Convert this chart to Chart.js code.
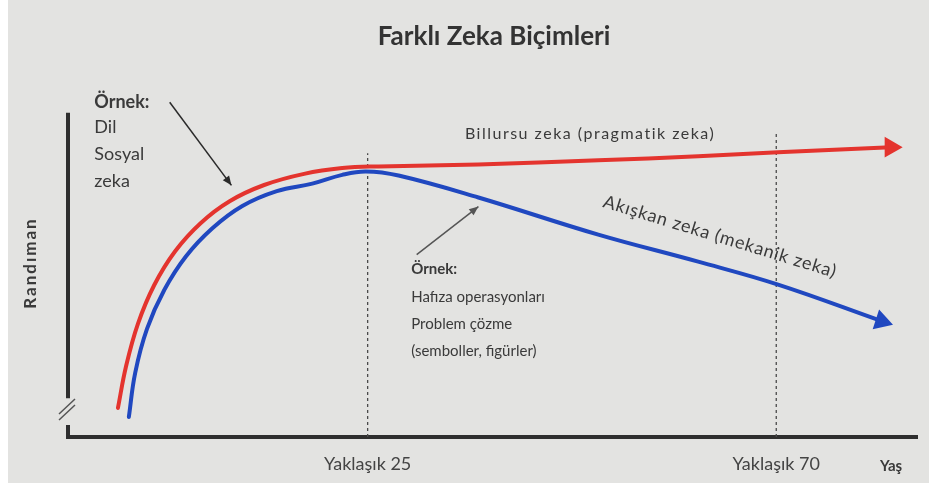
<!DOCTYPE html>
<html>
<head>
<meta charset="utf-8">
<script src="https://cdn.jsdelivr.net/npm/chart.js@4.4.1/dist/chart.umd.min.js"></script>
<style>
  html, body { margin: 0; padding: 0; background: #fff; }
  #wrap { width: 929px; height: 491px; }
</style>
</head>
<body>
<div id="wrap"><canvas id="graph" width="929" height="491"></canvas></div>
<script>
// x = yaş (schematic), y = randıman (0..100)
const ageTicks = [25, 70];
const tickLabels = ['Yaklaşık 25', 'Yaklaşık 70'];

const crystalAge = [-2.5, -1.6, -0.3, 1.5, 3.8, 6.6, 9.8, 13.6, 18.0, 22.2, 26.2, 37.2, 50.4, 61.4, 70.2, 82.6];
const crystalVal = [8.6, 21.0, 33.5, 45.0, 55.0, 63.3, 69.8, 74.6, 77.9, 79.6, 80.1, 80.7, 81.9, 83.1, 84.3, 85.8];

const fluidAge = [-1.3, -0.6, 0.7, 2.6, 5.0, 7.9, 11.2, 15.0, 18.9, 22.2, 24.8, 28.4, 37.2, 50.4, 61.4, 70.2, 81.6];
const fluidVal = [5.9, 19.0, 32.0, 43.5, 53.5, 61.8, 68.4, 72.8, 75.0, 77.6, 78.6, 77.4, 70.9, 59.9, 51.9, 45.1, 34.3];

const markerAge = [25, 70];
const markerTop = [84, 90];

const toPoints = (xs, ys) => xs.map((x, i) => ({ x: x, y: ys[i] }));
const lastOnly = (arr, r) => arr.map((v, i) => i === arr.length - 1 ? r : 0);

const FONT = 'Lato, "Open Sans", sans-serif';
const INK = '#3a3a3a';

const datasets = [
    {
        label: 'Billursu zeka (pragmatik zeka)',
        data: toPoints(crystalAge, crystalVal),
        borderColor: 'rgb(228, 52, 46)',
        backgroundColor: 'rgb(228, 52, 46)',
        borderWidth: 4,
        tension: 0.4,
        pointStyle: 'triangle',
        pointRadius: lastOnly(crystalAge, 8),
        pointRotation: 90,
        borderCapStyle: 'round',
        clip: false
    },
    {
        label: 'Akışkan zeka (mekanik zeka)',
        data: toPoints(fluidAge, fluidVal),
        borderColor: 'rgb(32, 72, 192)',
        backgroundColor: 'rgb(32, 72, 192)',
        borderWidth: 4,
        tension: 0.4,
        pointStyle: 'triangle',
        pointRadius: lastOnly(fluidAge, 8),
        pointRotation: 108,
        borderCapStyle: 'round',
        clip: false
    }
];

markerAge.forEach((a, i) => {
    datasets.push({
        label: 'marker' + i,
        data: [{ x: a, y: 0 }, { x: a, y: markerTop[i] }],
        borderColor: '#4a4a4a',
        borderWidth: 1.3,
        borderDash: [3, 3],
        pointRadius: 0
    });
});

const arrow = (ctx, x1, y1, x2, y2) => {
    const ang = Math.atan2(y2 - y1, x2 - x1);
    ctx.beginPath();
    ctx.moveTo(x1, y1);
    ctx.lineTo(x2, y2);
    ctx.stroke();
    ctx.beginPath();
    ctx.moveTo(x2, y2);
    ctx.lineTo(x2 - 10 * Math.cos(ang - 0.4), y2 - 10 * Math.sin(ang - 0.4));
    ctx.lineTo(x2 - 10 * Math.cos(ang + 0.4), y2 - 10 * Math.sin(ang + 0.4));
    ctx.closePath();
    ctx.fill();
};

const paper = {
    id: 'paper',
    beforeDraw(chart) {
        const ctx = chart.ctx;
        ctx.save();
        ctx.fillStyle = '#ffffff';
        ctx.fillRect(0, 0, chart.width, chart.height);
        ctx.fillStyle = '#e3e3e1';
        ctx.fillRect(8, 0, chart.width - 8, chart.height - 8);
        ctx.restore();
    }
};

const notes = {
    id: 'notes',
    afterDraw(chart) {
        const ctx = chart.ctx;
        const xs = chart.scales.x, ys = chart.scales.y;
        const X = v => xs.getPixelForValue(v), Y = v => ys.getPixelForValue(v);
        const area = chart.chartArea;
        ctx.save();

        // y axis with break marks
        ctx.strokeStyle = '#2e2e2e';
        ctx.lineWidth = 4;
        ctx.beginPath();
        ctx.moveTo(area.left, Y(96));
        ctx.lineTo(area.left, Y(11.5));
        ctx.moveTo(area.left, area.bottom - 12);
        ctx.lineTo(area.left, area.bottom + 2);
        ctx.stroke();
        ctx.lineWidth = 1.5;
        ctx.strokeStyle = '#555';
        ctx.beginPath();
        ctx.moveTo(area.left - 9, area.bottom - 23);
        ctx.lineTo(area.left + 7, area.bottom - 38);
        ctx.moveTo(area.left - 9, area.bottom - 17);
        ctx.lineTo(area.left + 7, area.bottom - 32);
        ctx.stroke();

        // y title
        ctx.fillStyle = INK;
        ctx.textAlign = 'center';
        ctx.textBaseline = 'middle';
        ctx.save();
        ctx.translate(31, Y(51.5));
        ctx.rotate(-Math.PI / 2);
        ctx.font = 'bold 17px ' + FONT;
        ctx.letterSpacing = '2px';
        ctx.fillText('Randıman', 0, 0);
        ctx.restore();

        // x title
        ctx.font = 'bold 15px ' + FONT;
        ctx.fillText('Yaş', area.right - 26, area.bottom + 29);

        // left note
        ctx.textAlign = 'left';
        ctx.font = 'bold 18px ' + FONT;
        ctx.fillText('Örnek:', X(-5.1), Y(99.1));
        ctx.font = '18px ' + FONT;
        ctx.fillText('Dil', X(-5.1), Y(91.7));
        ctx.fillText('Sosyal', X(-5.1), Y(83.7));
        ctx.fillText('zeka', X(-5.1), Y(75.7));

        // lower note
        ctx.font = 'bold 15px ' + FONT;
        ctx.fillText('Örnek:', X(29.8), Y(49.6));
        ctx.font = '15px ' + FONT;
        ctx.fillText('Hafıza operasyonları', X(29.8), Y(41.5));
        ctx.fillText('Problem çözme', X(29.8), Y(33.3));
        ctx.fillText('(semboller, figürler)', X(29.8), Y(25.5));

        // curve labels
        ctx.textAlign = 'center';
        ctx.save();
        ctx.font = '16px ' + FONT;
        ctx.letterSpacing = '1.5px';
        ctx.fillText('Billursu zeka (pragmatik zeka)', X(49.5), Y(89.6));
        ctx.restore();
        ctx.save();
        ctx.translate(X(63.8), Y(59.3));
        ctx.rotate(17 * Math.PI / 180);
        ctx.font = '18px ' + FONT;
        ctx.letterSpacing = '0.8px';
        ctx.fillText('Akışkan zeka (mekanik zeka)', 0, 0);
        ctx.restore();

        // pointer arrows
        ctx.strokeStyle = '#2a2a2a';
        ctx.fillStyle = '#2a2a2a';
        ctx.lineWidth = 1.5;
        arrow(ctx, X(3.2), Y(99.1), X(10.0), Y(74.5));
        ctx.strokeStyle = '#555';
        ctx.fillStyle = '#555';
        arrow(ctx, X(30.4), Y(54.0), X(37.2), Y(68.2));

        ctx.restore();
    }
};

new Chart(document.getElementById('graph'), {
    type: 'line',
    data: { datasets: datasets },
    options: {
        responsive: false,
        animation: false,
        events: [],
        layout: { padding: { left: 68, right: 9, top: 0, bottom: 0 } },
        plugins: {
            legend: { display: false },
            tooltip: { enabled: false },
            title: {
                display: true,
                text: 'Farklı Zeka Biçimleri',
                color: '#333',
                font: { family: FONT, size: 26, weight: 'bold' },
                padding: { top: 21, bottom: 47 }
            }
        },
        scales: {
            x: {
                type: 'linear',
                min: -8,
                max: 85.5,
                grid: { display: false, drawTicks: false },
                border: { display: true, color: '#2e2e2e', width: 4 },
                afterBuildTicks: (scale) => { scale.ticks = ageTicks.map(v => ({ value: v })); },
                afterFit: (scale) => { scale.height = 54; },
                ticks: {
                    padding: 16,
                    color: '#444',
                    font: { family: FONT, size: 18 },
                    callback: (v) => tickLabels[ageTicks.indexOf(v)]
                }
            },
            y: {
                type: 'linear',
                min: 0,
                max: 100,
                display: false
            }
        }
    },
    plugins: [paper, notes]
});
</script>
</body>
</html>
